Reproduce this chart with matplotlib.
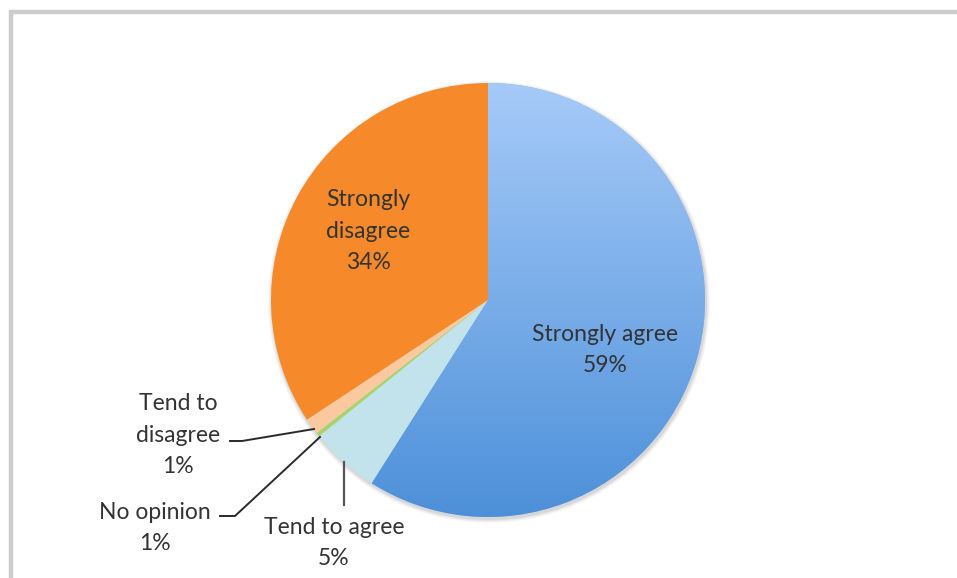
import numpy as np
import matplotlib
matplotlib.use("Agg")
import matplotlib.pyplot as plt
from matplotlib.patches import Rectangle

# data (clockwise from 12 o'clock)
categories = ["Strongly agree", "Tend to agree", "No opinion", "Tend to disagree", "Strongly disagree"]
shares = [59.0, 5.2, 0.3, 1.2, 34.3]
pct_labels = ["59%", "5%", "1%", "1%", "34%"]
colors = ["#7fb0ec", "#c2e3eb", "#a6d46a", "#fbc9a0", "#f68a2a"]

plt.rcParams['font.family'] = ['Lato', 'DejaVu Sans']

W, H = 957, 578
fig = plt.figure(figsize=(W / 100, H / 100), dpi=100)
ax = fig.add_axes([0, 0, 1, 1])

cx, cy, r = 488, H - 300, 217

# faint shadow round the pie
for k, a in zip([4, 3, 2, 1], [0.05, 0.07, 0.09, 0.12]):
    ax.add_patch(plt.Circle((cx + 1, cy - 2), r + k, color='#808080', alpha=a, lw=0, zorder=0))

wedges, _ = ax.pie(shares, colors=colors, startangle=90, counterclock=False,
                   center=(cx, cy), radius=r, frame=True,
                   wedgeprops=dict(linewidth=0))
ax.set_xlim(0, W)
ax.set_ylim(0, H)
ax.set_aspect('equal')
ax.axis('off')

# gradient on the big blue slice
grad = np.linspace(0, 1, 256).reshape(-1, 1)
cmap = matplotlib.colors.LinearSegmentedColormap.from_list('b', ['#4d90d9', '#a6caf8'])
im = ax.imshow(grad, cmap=cmap, origin='lower', aspect='auto',
               extent=(cx - r, cx + r, cy - r, cy + r), zorder=2)
im.set_clip_path(wedges[0])

# label text and where each block sits (pixel coords from top)
label_pos = [(605, 350), (334, 543), (155, 528), (178, 435), (368, 231)]
txt = '#333333'
fs = 16.5
for name, pct, (lx, ly) in zip(categories, pct_labels, label_pos):
    if name == "Strongly disagree":
        s = "Strongly\ndisagree\n" + pct
    elif name == "Tend to disagree":
        s = "Tend to\ndisagree\n" + pct
    else:
        s = name + "\n" + pct
    ax.text(lx, H - ly, s, ha='center', va='center', fontsize=fs,
            color=txt, linespacing=1.6, zorder=5)

# leader lines
lc = '#2a2a2a'
ax.plot([344, 344], [H - 505, H - 462], color='#555555', lw=1.6, zorder=4)
ax.plot([230, 242, 314], [H - 441, H - 441, H - 429], color=lc, lw=1.4, zorder=4)
ax.plot([220, 235, 320], [H - 516, H - 516, H - 437], color=lc, lw=1.4, zorder=4)

# chart frame (clipped at right and bottom edges)
ax.add_patch(Rectangle((11, -20), W + 20, H - 12 + 20, fill=False,
                       edgecolor='#cdcdcd', lw=3.2, zorder=6))

fig.savefig("out.png", dpi=100, facecolor='white')
